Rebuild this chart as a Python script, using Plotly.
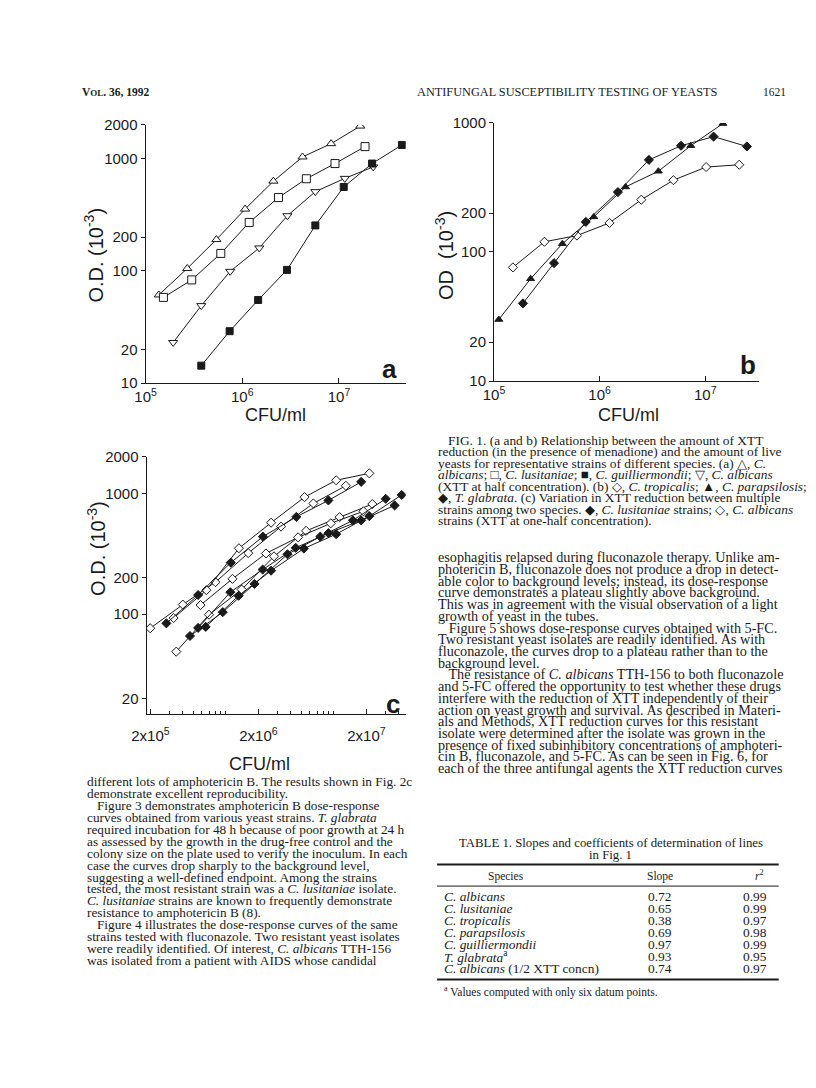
import math
import plotly.graph_objects as go

W, H = 816, 1088

# ---- Fig 1a : CFU/ml vs O.D. (10^-3) ----
a_tri_x = [1.37e5, 2.7e5, 5.4e5, 1.07e6, 2.1e6, 4.2e6, 8.3e6, 1.66e7]
a_tri_y = [61, 105, 190, 355, 630, 1035, 1360, 1950]
a_sq_x = [1.53e5, 3.0e5, 6.0e5, 1.18e6, 2.37e6, 4.6e6, 9.1e6, 1.86e7]
a_sq_y = [58, 83, 143, 270, 450, 662, 904, 1280]
a_inv_x = [1.93e5, 3.77e5, 7.5e5, 1.5e6, 2.93e6, 5.7e6, 1.15e7, 2.26e7]
a_inv_y = [23, 49, 99, 160, 310, 508, 667, 844]
a_fsq_x = [3.77e5, 7.4e5, 1.46e6, 2.9e6, 5.7e6, 1.12e7, 2.2e7, 4.48e7]
a_fsq_y = [14.3, 29, 55, 102, 254, 559, 904, 1324]

# ---- Fig 1b ----
b_odia_x = [1.51e5, 3.0e5, 6.1e5, 1.24e6, 2.48e6, 5.0e6, 1.02e7, 2.1e7]
b_odia_y = [76, 120, 134, 168, 254, 360, 455, 474]
b_ftri_x = [1.11e5, 2.22e5, 4.44e5, 8.8e5, 1.76e6, 3.6e6, 7.3e6, 1.47e7]
b_ftri_y = [30, 62, 116, 187, 319, 422, 665, 988]
b_fdia_x = [1.88e5, 3.7e5, 7.4e5, 1.49e6, 2.93e6, 5.9e6, 1.2e7, 2.48e7]
b_fdia_y = [40, 82, 171, 291, 517, 665, 783, 657]

# ---- Fig 1c : open = C. albicans strains, filled = C. lusitaniae strains ----
c_open = [
    ([1.99e5, 3.99e5, 8.0e5, 1.61e6, 3.24e6, 6.46e6, 1.29e7],
     [76.5, 120, 184, 320, 530, 824, 1154]),
    ([3.28e5, 6.6e5, 1.32e6, 2.62e6, 5.35e6, 1.05e7, 2.13e7],
     [93, 158, 351, 571, 929, 1282, 1462]),
    ([3.47e5, 6.97e5, 1.40e6, 2.79e6, 5.53e6, 1.13e7, 2.27e7],
     [49, 99, 160, 301, 489, 635, 815]),
    ([5.82e5, 1.15e6, 2.35e6, 4.66e6, 9.35e6, 1.88e7],
     [119, 196, 318, 432, 564, 710]),
]
c_filled = [
    ([2.81e5, 5.53e5, 1.11e6, 2.2e6, 4.49e6, 8.9e6, 1.79e7],
     [84, 144, 267, 438, 638, 873, 1243]),
    ([4.65e5, 9.35e5, 1.84e6, 3.72e6, 7.48e6, 1.5e7, 3.02e7],
     [66, 104, 178, 313, 438, 597, 900]),
    ([5.53e5, 1.1e6, 2.19e6, 4.43e6, 8.9e6, 1.79e7, 3.65e7],
     [77, 152, 234, 354, 468, 597, 794]),
    ([6.5e5, 1.31e6, 2.62e6, 5.27e6, 1.05e7, 2.13e7, 4.25e7],
     [78.5, 142, 229, 349, 459, 647, 969]),
]

# ---- Table 1 ----
tbl_species = ["<i>C. albicans</i>", "<i>C. lusitaniae</i>", "<i>C. tropicalis</i>",
               "<i>C. parapsilosis</i>", "<i>C. guilliermondii</i>",
               "<i>T. glabrata</i><sup>a</sup>", "<i>C. albicans</i> (1/2 XTT concn)"]
tbl_slope = ["0.72", "0.65", "0.38", "0.69", "0.97", "0.93", "0.74"]
tbl_r2 = ["0.99", "0.99", "0.97", "0.98", "0.99", "0.95", "0.97"]


def px(x):
    return x / W


def py(y):
    return 1 - y / H


INK = "#1a1a1a"
SANS = "Liberation Sans, Arial, sans-serif"
SERIF = "Liberation Serif, Times New Roman, serif"

fig = go.Figure()


def add(x, y, symbol, filled, ax, size=7):
    fig.add_trace(go.Scatter(
        x=x, y=y, mode="lines+markers", xaxis="x" + ax, yaxis="y" + ax,
        line=dict(color=INK, width=1),
        marker=dict(symbol=symbol, size=size, color=INK if filled else "white",
                    line=dict(color=INK, width=1)),
        showlegend=False, hoverinfo="skip"))


add(a_tri_x, a_tri_y, "triangle-up", False, "", 8)
add(a_sq_x, a_sq_y, "square", False, "", 8)
add(a_inv_x, a_inv_y, "triangle-down", False, "", 8)
add(a_fsq_x, a_fsq_y, "square", True, "", 7)

add(b_odia_x, b_odia_y, "diamond", False, "2")
add(b_ftri_x, b_ftri_y, "triangle-up", True, "2")
add(b_fdia_x, b_fdia_y, "diamond", True, "2")

for cx, cy in c_open:
    add(cx, cy, "diamond", False, "3")
for cx, cy in c_filled:
    add(cx, cy, "diamond", True, "3")

tickfont = dict(family=SANS, size=15, color=INK)


def xax(dom, rng, vals, text, anchor, minor=None, standoff=0):
    d = dict(domain=dom, type="log", range=rng, tickvals=vals, ticktext=text,
             anchor=anchor, showline=True, linecolor=INK, linewidth=1,
             ticks="inside", ticklen=5, tickcolor=INK, showgrid=False,
             zeroline=False, tickfont=tickfont, ticklabelstandoff=standoff)
    if minor:
        d["minor"] = dict(tickvals=minor, ticks="inside", ticklen=3,
                          tickcolor=INK, showgrid=False)
    return d


def yax(dom, rng, vals, anchor):
    return dict(domain=dom, type="log", range=rng, tickvals=vals,
                ticktext=[str(v) for v in vals], anchor=anchor,
                showline=True, linecolor=INK, linewidth=1, ticks="outside",
                ticklen=4, tickcolor=INK, showgrid=False, zeroline=False,
                tickfont=tickfont)


dec = ["10<sup>5</sup>", "10<sup>6</sup>", "10<sup>7</sup>"]
c_minor = [m * 10 ** e for e in (5, 6, 7) for m in range(1, 10)
           if 1.8e5 < m * 10 ** e < 4.7e7 and m != 2]

fig.update_layout(
    width=W, height=H, margin=dict(l=0, r=0, t=0, b=0),
    paper_bgcolor="white", plot_bgcolor="white",
    xaxis=xax([px(133), px(398)], [5, 7.69], [1e5, 1e6, 1e7], dec, "y"),
    yaxis=yax([py(380), py(117.7)], [1, math.log10(2000)],
              [10, 20, 100, 200, 1000, 2000], "x"),
    xaxis2=xax([px(488), px(758)], [5, 7.51], [1e5, 1e6, 1e7], dec, "y2"),
    yaxis2=yax([py(378), py(115.7)], [1, 3], [10, 20, 100, 200, 1000], "x2"),
    xaxis3=xax([px(134), px(398)], [5.265, 7.665], [2e5, 2e6, 2e7],
               ["2x10<sup>5</sup>", "2x10<sup>6</sup>", "2x10<sup>7</sup>"],
               "y3", c_minor, 8),
    yaxis3=yax([py(716), py(455)], [1.176, math.log10(2000)],
               [20, 100, 200, 1000, 2000], "x3"),
)

ann = []


def text(x, y, s, size=13.3, family=SERIF, anchor="left", angle=0, **kw):
    ann.append(dict(x=px(x), y=py(y), xref="paper", yref="paper", text=s,
                    showarrow=False, xanchor=anchor, yanchor="middle",
                    textangle=angle, borderpad=0,
                    font=dict(family=family, size=size, color=INK), **kw))


# axis titles and panel letters
title_sup = "(10<sup>-3</sup>)"
text(80, 250, "O.D. " + title_sup, 20, SANS, "center", -90)
text(437, 250, "OD  " + title_sup, 20, SANS, "center", -90)
text(83, 548, "O.D. " + title_sup, 20, SANS, "center", -90)
text(265, 412, "CFU/ml", 18, SANS, "center")
text(625, 412, "CFU/ml", 18, SANS, "center")
text(249, 767, "CFU/ml", 18, SANS, "center")
text(382, 366, "<b>a</b>", 26, SANS, "center")
text(747, 362, "<b>b</b>", 26, SANS, "center")
text(385, 706, "<b>c</b>", 26, SANS, "center")

# running head
text(67, 84, "<b>V<span style='font-size:9px'>OL</span>. 36, 1992</b>", 11.5)
text(408, 84, "ANTIFUNGAL SUSCEPTIBILITY TESTING OF YEASTS", 12.3)
text(786, 84, "1621", 11.5, anchor="right")

# figure caption
caption = [
    "   FIG. 1. (a and b) Relationship between the amount of XTT",
    "reduction (in the presence of menadione) and the amount of live",
    "yeasts for representative strains of different species. (a) △, <i>C.</i>",
    "<i>albicans</i>; □, <i>C. lusitaniae</i>; ■, <i>C. guilliermondii</i>; ▽, <i>C. albicans</i>",
    "(XTT at half concentration). (b) ◇, <i>C. tropicalis</i>; ▲, <i>C. parapsilosis</i>;",
    "◆, <i>T. glabrata</i>. (c) Variation in XTT reduction between multiple",
    "strains among two species. ◆, <i>C. lusitaniae</i> strains; ◇, <i>C. albicans</i>",
    "strains (XTT at one-half concentration).",
]
for i, s in enumerate(caption):
    text(430, 438 + i * 11.7, s, 13.4)

left_col = [
    "different lots of amphotericin B. The results shown in Fig. 2c",
    "demonstrate excellent reproducibility.",
    "   Figure 3 demonstrates amphotericin B dose-response",
    "curves obtained from various yeast strains. <i>T. glabrata</i>",
    "required incubation for 48 h because of poor growth at 24 h",
    "as assessed by the growth in the drug-free control and the",
    "colony size on the plate used to verify the inoculum. In each",
    "case the curves drop sharply to the background level,",
    "suggesting a well-defined endpoint. Among the strains",
    "tested, the most resistant strain was a <i>C. lusitaniae</i> isolate.",
    "<i>C. lusitaniae</i> strains are known to frequently demonstrate",
    "resistance to amphotericin B (8).",
    "   Figure 4 illustrates the dose-response curves of the same",
    "strains tested with fluconazole. Two resistant yeast isolates",
    "were readily identified. Of interest, <i>C. albicans</i> TTH-156",
    "was isolated from a patient with AIDS whose candidal",
]
for i, s in enumerate(left_col):
    text(72, 785 + i * 12.1, s)

right_col = [
    "esophagitis relapsed during fluconazole therapy. Unlike am-",
    "photericin B, fluconazole does not produce a drop in detect-",
    "able color to background levels; instead, its dose-response",
    "curve demonstrates a plateau slightly above background.",
    "This was in agreement with the visual observation of a light",
    "growth of yeast in the tubes.",
    "   Figure 5 shows dose-response curves obtained with 5-FC.",
    "Two resistant yeast isolates are readily identified. As with",
    "fluconazole, the curves drop to a plateau rather than to the",
    "background level.",
    "   The resistance of <i>C. albicans</i> TTH-156 to both fluconazole",
    "and 5-FC offered the opportunity to test whether these drugs",
    "interfere with the reduction of XTT independently of their",
    "action on yeast growth and survival. As described in Materi-",
    "als and Methods, XTT reduction curves for this resistant",
    "isolate were determined after the isolate was grown in the",
    "presence of fixed subinhibitory concentrations of amphoteri-",
    "cin B, fluconazole, and 5-FC. As can be seen in Fig. 6, for",
    "each of the three antifungal agents the XTT reduction curves",
]
for i, s in enumerate(right_col):
    text(430, 557 + i * 11.9, s, 14.2)

# table 1
TL, TR, TC = 430, 778, 607
text(TC, 847, "TABLE 1. Slopes and coefficients of determination of lines", 12.8, anchor="center")
text(TC, 859, "in Fig. 1", 12.8, anchor="center")
text(500, 881, "Species", 11.5, anchor="center")
text(657, 881, "Slope", 11.5, anchor="center")
text(764, 880, "<i>r</i><sup>2</sup>", 11.5, anchor="right")
for i in range(len(tbl_species)):
    yy = 902 + i * 12.2
    text(436, yy, tbl_species[i], 13.4)
    text(657, yy, tbl_slope[i], 13.4, anchor="center")
    text(767, yy, tbl_r2[i], 13.4, anchor="right")
text(436, 998, "<sup>a</sup> Values computed with only six datum points.", 11.5)

fig.update_layout(annotations=ann, shapes=[
    dict(type="line", xref="paper", yref="paper", x0=px(TL), x1=px(TR),
         y0=py(869), y1=py(869), line=dict(color=INK, width=2)),
    dict(type="line", xref="paper", yref="paper", x0=px(TL), x1=px(TR),
         y0=py(891), y1=py(891), line=dict(color=INK, width=1)),
    dict(type="line", xref="paper", yref="paper", x0=px(TL), x1=px(TR),
         y0=py(986), y1=py(986), line=dict(color=INK, width=2)),
])

fig.write_html("out.html", config={"displayModeBar": False},
               post_script="document.body.style.margin='0';")
